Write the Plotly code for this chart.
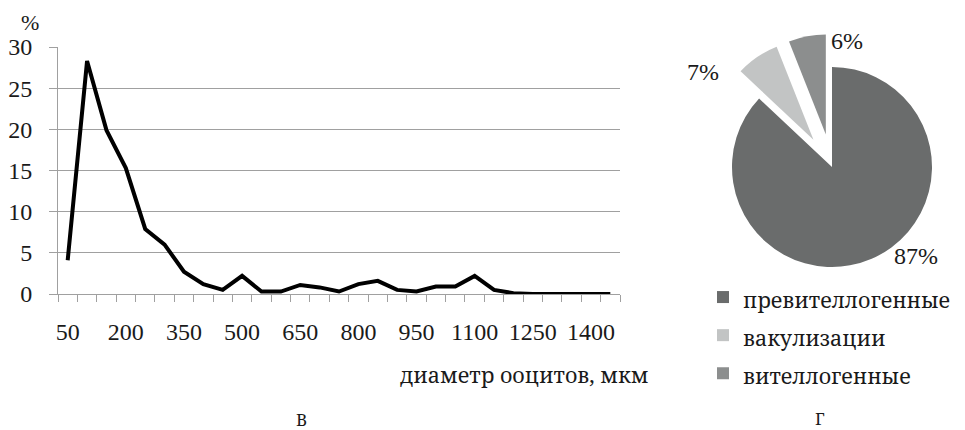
import plotly.graph_objects as go

diam = [50, 100, 150, 200, 250, 300, 350, 400, 450, 500, 550, 600, 650, 700, 750,
        800, 850, 900, 950, 1000, 1050, 1100, 1150, 1200, 1250, 1300, 1350, 1400, 1450]
share = [4.1, 28.3, 19.9, 15.3, 7.9, 6.0, 2.7, 1.2, 0.5, 2.2, 0.3, 0.3, 1.1, 0.8, 0.3,
         1.2, 1.6, 0.5, 0.3, 0.9, 0.9, 2.2, 0.5, 0.1, 0.0, 0.0, 0.0, 0.0, 0.0]
x_tick_labels = [50, 200, 350, 500, 650, 800, 950, 1100, 1250, 1400]
y_ticks = [0, 5, 10, 15, 20, 25, 30]

pie_labels = ["превителлогенные", "вакулизации", "вителлогенные"]
pie_values = [87, 7, 6]
pie_colors = ["#6a6c6c", "#c2c4c4", "#8c8e8e"]

NUM_FONT = "Liberation Serif"
CYR_FONT = "Noto Serif"
W, H = 965, 430
OFF = 8  # page body margin


def X(px):
    return (px - OFF) / W


def Y(py):
    return (H - (py - OFF)) / H


# legend rows are spaced by the legend font size; the visible text is set smaller
legend_text = [f"<span style='font-size:21.5px'>{s}</span>" for s in pie_labels]

fig = go.Figure()
fig.add_trace(go.Scatter(
    x=diam, y=share, mode="lines",
    line=dict(color="black", width=4),
    showlegend=False, xaxis="x", yaxis="y"))

fig.add_trace(go.Pie(
    labels=legend_text, values=pie_values, sort=False, direction="clockwise",
    rotation=0, pull=[0, 0.33, 0.33],
    marker=dict(colors=pie_colors, line=dict(color="white", width=0)),
    textinfo="none", hoverinfo="percent",
    domain=dict(x=[X(699), X(965)], y=[Y(300), Y(34)]),
    showlegend=True))

fig.update_layout(
    template="none",
    width=W, height=H,
    margin=dict(l=0, r=0, t=0, b=0, autoexpand=False),
    paper_bgcolor="white", plot_bgcolor="white",
    font=dict(family=NUM_FONT, size=22, color="#1a1a1a"),
    xaxis=dict(domain=[X(58), X(620)], range=[25, 1475],
               tickvals=x_tick_labels, ticktext=[str(v) for v in x_tick_labels],
               ticks="", showgrid=False, zeroline=False, automargin=False,
               showline=True, linecolor="#a0a0a0", linewidth=1,
               tickfont=dict(family=NUM_FONT, size=24), ticklabelstandoff=16,
               minor=dict(tick0=25, dtick=50, ticks="outside", ticklen=7,
                          tickcolor="#a0a0a0", showgrid=False)),
    yaxis=dict(domain=[Y(294), Y(47)], range=[0, 30],
               tickvals=y_ticks, ticks="outside", ticklen=8, tickcolor="#a0a0a0",
               showgrid=True, gridcolor="#a0a0a0", gridwidth=1, automargin=False,
               zeroline=False, showline=True, linecolor="#a0a0a0", linewidth=1,
               tickfont=dict(family=NUM_FONT, size=24), ticklabelstandoff=12),
    legend=dict(x=X(703), y=Y(273), xanchor="left", yanchor="top",
                font=dict(family=CYR_FONT, size=27, color="#1a1a1a"), itemwidth=30,
                bgcolor="rgba(0,0,0,0)"),
)

annos = [
    dict(text="%", x=X(30), y=Y(23), font=dict(family=NUM_FONT, size=22)),
    dict(text="диаметр ооцитов, мкм", x=X(524), y=Y(374), font=dict(family=CYR_FONT, size=21.5)),
    dict(text="В", x=X(301), y=Y(419), font=dict(family=CYR_FONT, size=17)),
    dict(text="Г", x=X(820), y=Y(418), font=dict(family=CYR_FONT, size=17)),
    dict(text=f"{pie_values[0]}%", x=X(916), y=Y(256), font=dict(family=NUM_FONT, size=24)),
    dict(text=f"{pie_values[1]}%", x=X(703), y=Y(72), font=dict(family=NUM_FONT, size=24)),
    dict(text=f"{pie_values[2]}%", x=X(847), y=Y(41), font=dict(family=NUM_FONT, size=24)),
]
for a in annos:
    a["font"]["color"] = "#1a1a1a"
    fig.add_annotation(xref="paper", yref="paper", showarrow=False,
                       xanchor="center", yanchor="middle", **a)

fig.write_html("out.html")
